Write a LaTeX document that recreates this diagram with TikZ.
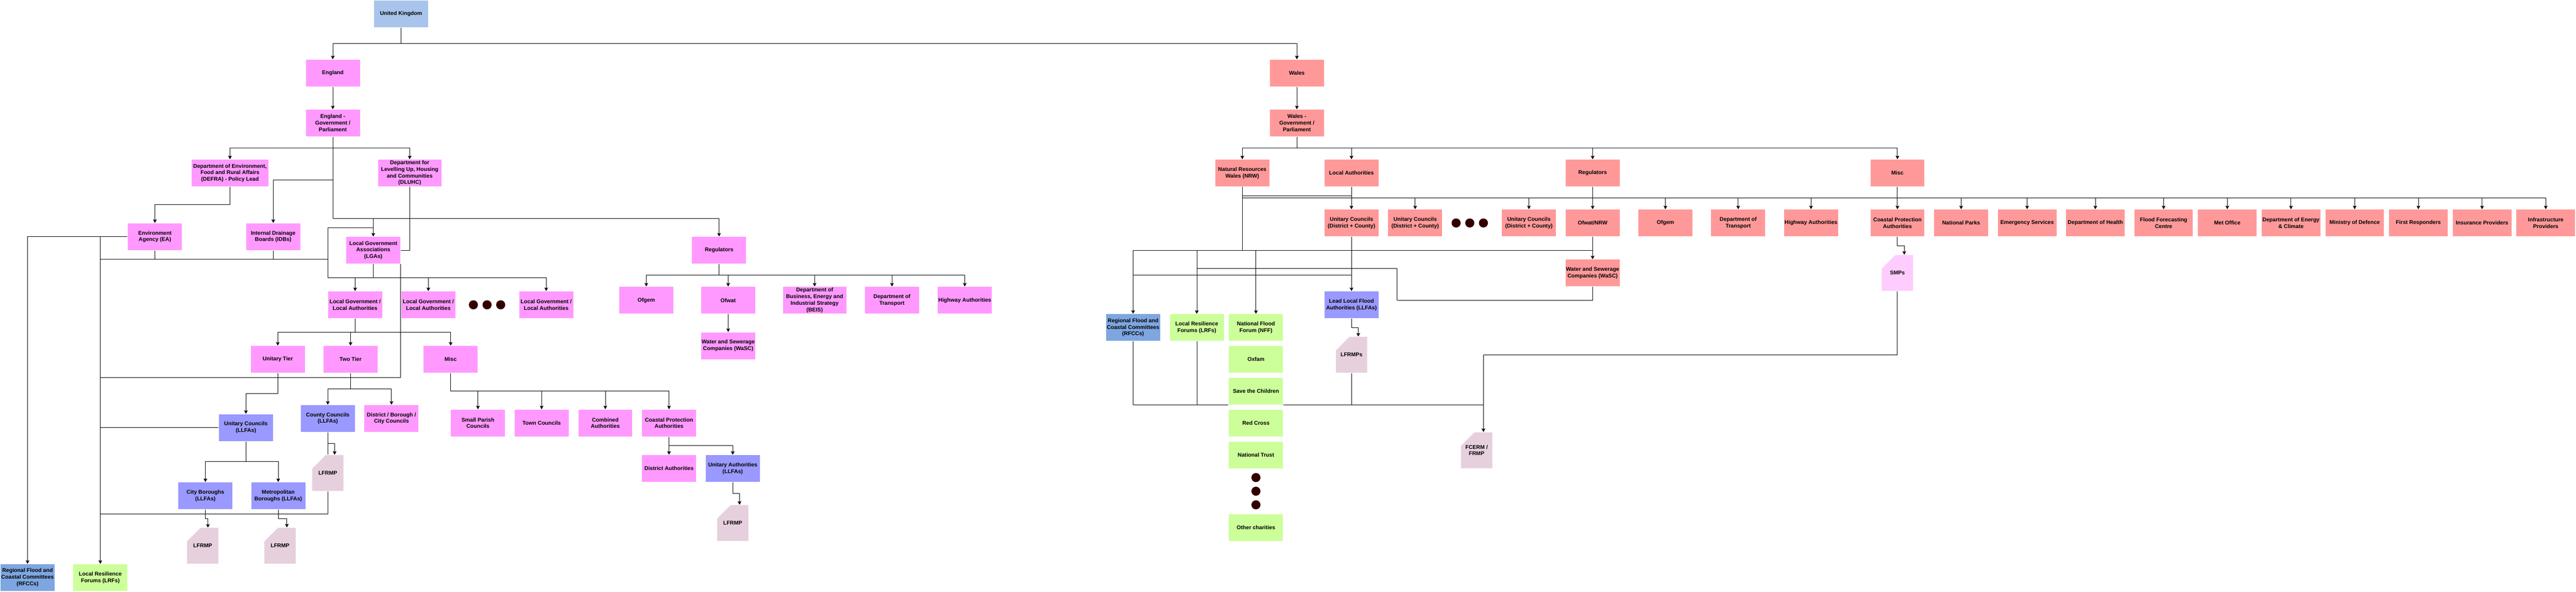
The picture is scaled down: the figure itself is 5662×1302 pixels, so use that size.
\documentclass[tikz,border=0pt]{standalone}
\usepackage{fontspec}
\setmainfont{Liberation Sans}
\usetikzlibrary{arrows.meta,backgrounds}
\definecolor{ukblue}{HTML}{A9C4EB}
\definecolor{engpink}{HTML}{FF99FF}
\definecolor{walesred}{HTML}{FF9999}
\definecolor{llfablue}{HTML}{9999FF}
\definecolor{rfccblue}{HTML}{7EA6E0}
\definecolor{lrfgreen}{HTML}{CCFF99}
\definecolor{planmauve}{HTML}{E6D0DE}
\definecolor{smppink}{HTML}{FFCCFF}
\definecolor{dotbrown}{HTML}{330000}
\tikzset{
  box/.style={draw=white,line width=1pt,minimum width=120pt,minimum height=60pt,inner sep=0pt,outer sep=0pt,align=center,
    font=\fontsize{12}{14.4}\selectfont\bfseries},
  ukbox/.style={box,fill=ukblue},
  engbox/.style={box,fill=engpink},
  walesbox/.style={box,fill=walesred},
  llfabox/.style={box,fill=llfablue},
  rfccbox/.style={box,fill=rfccblue},
  lrfbox/.style={box,fill=lrfgreen},
  widebox/.style={minimum width=130pt},
  cardbox/.style={minimum width=70pt,minimum height=80pt,inner sep=0pt,outer sep=0pt,align=center,
    font=\fontsize{12}{14.4}\selectfont\bfseries},
  bigdot/.style={circle,fill=dotbrown,minimum size=20pt,inner sep=0pt},
  link/.style={line width=1pt},
  arr/.style={line width=1pt,-{Stealth[length=8pt,width=8pt,inset=1.5pt]}},
}
% card with a cut corner, plus the point where its arrow lands
\newcommand{\plancard}[4]{%
  \filldraw[fill=#3,draw=white,line width=1pt] (#2) ++(-35,-10) -- ++(30,-30) -- ++(40,0) -- ++(0,80) -- ++(-70,0) -- cycle;
  \node[cardbox] (#1) at (#2) {#4};
  \coordinate (#1in) at ([xshift=15pt]#1.north);
}
\begin{document}
\begin{tikzpicture}[x=1pt,y=-1pt]
  \useasboundingbox (0,0) rectangle (5662,1302);

  % top
  \node[ukbox] (uk) at (881.5,30.5) {United Kingdom};
  \node[engbox] (england) at (731.5,160.5) {England};
  \node[engbox] (enggov) at (731.5,270.5) {England -\\Government /\\Parliament};
  \node[walesbox] (wales) at (2850.5,160.5) {Wales};
  \node[walesbox] (walesgov) at (2850.5,270.5) {Wales -\\Government /\\Parliament};

  % england
  \node[engbox,minimum width=170pt] (defra) at (505.5,380.5) {Department of Environment,\\Food and Rural Affairs\\(DEFRA) - Policy Lead};
  \node[engbox,minimum width=140pt] (dluhc) at (900.5,380.5) {Department for\\Levelling Up, Housing\\and Communities\\(DLUHC)};
  \node[engbox] (ea) at (340.5,520.5) {Environment\\Agency (EA)};
  \node[engbox] (idb) at (600.5,520.5) {Internal Drainage\\Boards (IDBs)};
  \node[engbox] (lga) at (820.5,550.5) {Local Government\\Associations\\(LGAs)};
  \node[engbox] (lgaa) at (780.5,670.5) {Local Government /\\Local Authorities};
  \node[engbox] (lgab) at (941.5,670.5) {Local Government /\\Local Authorities};
  \node[bigdot] (dota) at (1040.5,670.5) {};
  \node[bigdot] (dotb) at (1070.5,670.5) {};
  \node[bigdot] (dotc) at (1100.5,670.5) {};
  \node[engbox] (lgac) at (1200.5,670.5) {Local Government /\\Local Authorities};
  \node[engbox] (unitier) at (610.5,790.5) {Unitary Tier};
  \node[engbox] (twotier) at (770.5,790.5) {Two Tier};
  \node[engbox] (miscla) at (990.5,790.5) {Misc};
  \node[llfabox] (ucll) at (540.5,940.5) {Unitary Councils\\(LLFAs)};
  \node[llfabox] (county) at (720.5,920.5) {County Councils\\(LLFAs)};
  \node[engbox] (districtb) at (860.5,920.5) {District / Borough /\\City Councils};
  \node[llfabox] (cityb) at (451.5,1090.5) {City Boroughs\\(LLFAs)};
  \node[llfabox] (metrob) at (611.5,1090.5) {Metropolitan\\Boroughs (LLFAs)};
  \plancard{lfrmpa}{445.5,1200.5}{planmauve}{LFRMP}
  \plancard{lfrmpb}{615.5,1200.5}{planmauve}{LFRMP}
  \plancard{lfrmpc}{720.5,1040.5}{planmauve}{LFRMP}
  \node[rfccbox] (rfcca) at (60.5,1270.5) {Regional Flood and\\Coastal Committees\\(RFCCs)};
  \node[lrfbox] (lrfa) at (220.5,1270.5) {Local Resilience\\Forums (LRFs)};
  \node[engbox] (parish) at (1050.5,930.5) {Small Parish\\Councils};
  \node[engbox] (town) at (1190.5,930.5) {Town Councils};
  \node[engbox] (combined) at (1330.5,930.5) {Combined\\Authorities};
  \node[engbox] (coastala) at (1470.5,930.5) {Coastal Protection\\Authorities};
  \node[engbox] (districta) at (1470.5,1030.5) {District Authorities};
  \node[llfabox] (unitarya) at (1610.5,1030.5) {Unitary Authorities\\(LLFAs)};
  \plancard{lfrmpd}{1610.5,1150.5}{planmauve}{LFRMP}

  % england regulators
  \node[engbox] (regeng) at (1580.5,550.5) {Regulators};
  \node[engbox] (ofgema) at (1420.5,660.5) {Ofgem};
  \node[engbox] (ofwata) at (1600.5,660.5) {Ofwat};
  \node[engbox,minimum width=140pt] (beis) at (1790.5,660.5) {Department of\\Business, Energy and\\Industrial Strategy\\(BEIS)};
  \node[engbox] (dota1) at (1960.5,660.5) {Department of\\Transport};
  \node[engbox] (highwaya) at (2120.5,660.5) {Highway Authorities};
  \node[engbox] (wasca) at (1600.5,760.5) {Water and Sewerage\\Companies (WaSC)};

  % wales
  \node[walesbox] (nrw) at (2730.5,380.5) {Natural Resources\\Wales (NRW)};
  \node[walesbox] (lawales) at (2970.5,380.5) {Local Authorities};
  \node[walesbox] (regwales) at (3500.5,380.5) {Regulators};
  \node[walesbox] (miscw) at (4170.5,380.5) {Misc};
  \node[walesbox] (ucwa) at (2970.5,490.5) {Unitary Councils\\(District + County)};
  \node[walesbox] (ucwb) at (3110.5,490.5) {Unitary Councils\\(District + County)};
  \node[bigdot] (dotd) at (3200.5,490.5) {};
  \node[bigdot] (dote) at (3230.5,490.5) {};
  \node[bigdot] (dotf) at (3260.5,490.5) {};
  \node[walesbox] (ucwc) at (3360.5,490.5) {Unitary Councils\\(District + County)};
  \node[walesbox] (ofwatw) at (3500.5,490.5) {Ofwat/NRW};
  \node[walesbox] (ofgemw) at (3660.5,490.5) {Ofgem};
  \node[walesbox] (dotw) at (3820.5,490.5) {Department of\\Transport};
  \node[walesbox] (highwayw) at (3980.5,490.5) {Highway Authorities};
  \node[walesbox] (coastalw) at (4170.5,490.5) {Coastal Protection\\Authorities};
  \node[walesbox] (parks) at (4310.5,490.5) {National Parks};
  \node[walesbox,widebox] (emergency) at (4455.5,490.5) {Emergency Services};
  \node[walesbox,widebox] (health) at (4605.5,490.5) {Department of Health};
  \node[walesbox,widebox] (ffc) at (4755.5,490.5) {Flood Forecasting\\Centre};
  \node[walesbox,widebox] (met) at (4895.5,490.5) {Met Office};
  \node[walesbox,widebox] (decc) at (5035.5,490.5) {Department of Energy\\\& Climate};
  \node[walesbox,widebox] (mod) at (5175.5,490.5) {Ministry of Defence};
  \node[walesbox,widebox] (firstr) at (5315.5,490.5) {First Responders};
  \node[walesbox,widebox] (insurance) at (5455.5,490.5) {Insurance Providers};
  \node[walesbox,widebox] (infra) at (5595.5,490.5) {Infrastructure\\Providers};
  \node[walesbox] (wascw) at (3500.5,600.5) {Water and Sewerage\\Companies (WaSC)};
  \node[llfabox] (llfa) at (2970.5,670.5) {Lead Local Flood\\Authorities (LLFAs)};
  \plancard{lfrmpe}{2970.5,780.5}{planmauve}{LFRMPs}
  \plancard{smp}{4170.5,600.5}{smppink}{SMPs}
  \plancard{fcerm}{3245.5,990.5}{planmauve}{FCERM /\\FRMP}

  % wales partners
  \node[rfccbox] (rfccw) at (2490.5,720.5) {Regional Flood and\\Coastal Committees\\(RFCCs)};
  \node[lrfbox] (lrfw) at (2630.5,720.5) {Local Resilience\\Forums (LRFs)};
  \node[lrfbox] (nff) at (2760.5,720.5) {National Flood\\Forum (NFF)};
  \node[lrfbox] (oxfam) at (2760.5,790.5) {Oxfam};
  \node[lrfbox] (save) at (2760.5,860.5) {Save the Children};
  \node[lrfbox] (redcross) at (2760.5,930.5) {Red Cross};
  \node[lrfbox] (trust) at (2760.5,1000.5) {National Trust};
  \node[bigdot] (dotg) at (2760.5,1050.5) {};
  \node[bigdot] (doth) at (2760.5,1080.5) {};
  \node[bigdot] (doti) at (2760.5,1110.5) {};
  \node[lrfbox] (other) at (2760.5,1160.5) {Other charities};

  % bends of the connectors
  \coordinate (ukbus) at (881.5,95.5);
  \coordinate (engbus) at (731.5,325.5);
  \coordinate (idbbend) at (731.5,395.5);
  \coordinate (regbus) at (731.5,480.5);
  \coordinate (defrabend) at (505.5,450.5);
  \coordinate (lrflinka) at (220.5,830.5);
  \coordinate (lrflinkb) at (220.5,1130.5);
  \coordinate (eabus) at (220.5,570.5);
  \coordinate (lgaleft) at (720.5,570.5);
  \coordinate (lgatop) at (820.5,500.5);
  \coordinate (lgabus) at (820.5,610.5);
  \coordinate (tierbus) at (780.5,730.5);
  \coordinate (unibend) at (610.5,865.5);
  \coordinate (ucbus) at (540.5,1015.5);
  \coordinate (citybend) at (451.5,1140.5);
  \coordinate (lfrmpain) at (457,1161);
  \coordinate (metrobend) at (611.5,1140.5);
  \coordinate (twobus) at (770.5,855.5);
  \coordinate (countybend) at (720.5,975.5);
  \coordinate (miscbus) at (990.5,860.5);
  \coordinate (coastbus) at (1470.5,980.5);
  \coordinate (unitbend) at (1610.5,1085.5);
  \coordinate (regbusb) at (1580.5,605.5);
  \coordinate (walesbusa) at (2850.5,325.5);
  \coordinate (rowbus) at (2730.5,435.5);
  \coordinate (labend) at (2730.5,430.5);
  \coordinate (walesbus) at (2730.5,550.5);
  \coordinate (llfabus) at (2490.5,605.5);
  \coordinate (wascbend) at (3070.5,660.5);
  \coordinate (wascend) at (2630.5,590.5);
  \coordinate (llfabend) at (2970.5,720.5);
  \coordinate (planbus) at (3260.5,890.5);
  \coordinate (coastbend) at (4170.5,540.5);
  \coordinate (smpbend) at (3260.5,780.5);

  \begin{scope}[on background layer]
    \draw[arr] (uk.south) |- (ukbus) -| (england.north);
    \draw[arr] (uk.south) |- (ukbus) -| (wales.north);
    \draw[arr] (england) -- (enggov);
    \draw[arr] (wales) -- (walesgov);

    \draw[arr] (enggov.south) |- (engbus) -| (defra.north);
    \draw[arr] (enggov.south) |- (engbus) -| (dluhc.north);
    \draw[arr] (enggov.south) |- (idbbend) -| (idb.north);
    \draw[arr] (enggov.south) |- (regbus) -| (regeng.north);
    \draw[arr] (enggov.south) |- (regbus) -| (lga.north);
    \draw[arr] (defra.south) |- (defrabend) -| (ea.north);
    \draw[link] (dluhc.south) |- (lga.east);
    \draw[link] (lga.east) |- (lrflinka);
    \draw[arr] (ea.west) -| (rfcca.north);
    \draw[arr] (ea.west) -| (lrfa.north);
    \draw[link] (ea.south) |- (eabus);
    \draw[link] (idb.south) |- (lgaleft);
    \draw[link] (idb.south) |- (eabus);
    \draw[link] (lgaleft) |- (lgatop);
    \draw[arr] (lgaleft) |- (lgabus) -| (lgab.north);
    \draw[arr] (lgaleft) |- (lgabus) -| (lgaa.north);
    \draw[arr] (lga.south) |- (lgabus) -| (lgac.north);
    \draw[arr] (lgaa.south) |- (tierbus) -| (unitier.north);
    \draw[arr] (lgaa.south) |- (tierbus) -| (twotier.north);
    \draw[arr] (lgaa.south) |- (tierbus) -| (miscla.north);
    \draw[arr] (unitier.south) |- (unibend) -| (ucll.north);
    \draw[link] (ucll.west) -- (ucll.west -| lrfa.north);
    \draw[arr] (ucll.south) |- (ucbus) -| (cityb.north);
    \draw[arr] (ucll.south) |- (ucbus) -| (metrob.north);
    \draw[arr] (cityb.south) |- (citybend) -| (lfrmpain);
    \draw[arr] (metrob.south) |- (metrobend) -| (lfrmpbin);
    \draw[arr] (twotier.south) |- (twobus) -| (county.north);
    \draw[arr] (twotier.south) |- (twobus) -| (districtb.north);
    \draw[arr] (county.south) |- (countybend) -| (lfrmpcin);
    \draw[link] (county.south) -- (lfrmpc.north);
    \draw[link] (lfrmpc.south) |- (lrflinkb);
    \draw[arr] (miscla.south) |- (miscbus) -| (parish.north);
    \draw[arr] (miscla.south) |- (miscbus) -| (town.north);
    \draw[arr] (miscla.south) |- (miscbus) -| (combined.north);
    \draw[arr] (miscla.south) |- (miscbus) -| (coastala.north);
    \draw[arr] (coastala.south) |- (coastbus) -| (districta.north);
    \draw[arr] (coastala.south) |- (coastbus) -| (unitarya.north);
    \draw[arr] (unitarya.south) |- (unitbend) -| (lfrmpdin);

    \draw[arr] (regeng.south) |- (regbusb) -| (ofgema.north);
    \draw[arr] (regeng.south) |- (regbusb) -| (ofwata.north);
    \draw[arr] (regeng.south) |- (regbusb) -| (beis.north);
    \draw[arr] (regeng.south) |- (regbusb) -| (dota1.north);
    \draw[arr] (regeng.south) |- (regbusb) -| (highwaya.north);
    \draw[arr] (ofwata) -- (wasca);

    \draw[arr] (walesgov.south) |- (walesbusa) -| (nrw.north);
    \draw[arr] (walesgov.south) |- (walesbusa) -| (lawales.north);
    \draw[arr] (walesgov.south) |- (walesbusa) -| (regwales.north);
    \draw[arr] (walesgov.south) |- (walesbusa) -| (miscw.north);
    \draw[arr] (lawales) -- (ucwa);
    \draw[link] (lawales.south) |- (labend);
    \draw[arr] (regwales) -- (ofwatw);
    \draw[arr] (miscw) -- (coastalw);
    \draw[link] (nrw.south) |- (rowbus);
    \draw[arr] (rowbus) -| (ucwb.north);
    \draw[arr] (rowbus) -| (ucwc.north);
    \draw[arr] (rowbus) -| (ofgemw.north);
    \draw[arr] (rowbus) -| (dotw.north);
    \draw[arr] (rowbus) -| (highwayw.north);
    \draw[arr] (rowbus) -| (parks.north);
    \draw[arr] (rowbus) -| (emergency.north);
    \draw[arr] (rowbus) -| (health.north);
    \draw[arr] (rowbus) -| (ffc.north);
    \draw[arr] (rowbus) -| (met.north);
    \draw[arr] (rowbus) -| (decc.north);
    \draw[arr] (rowbus) -| (mod.north);
    \draw[arr] (rowbus) -| (firstr.north);
    \draw[arr] (rowbus) -| (insurance.north);
    \draw[arr] (rowbus) -| (infra.north);
    \draw[link] (nrw.south) |- (walesbus);
    \draw[arr] (walesbus) -| (rfccw.north);
    \draw[arr] (walesbus) -| (lrfw.north);
    \draw[arr] (walesbus) -| (nff.north);
    \draw[link] (walesbus) -| (ofwatw.south);
    \draw[arr] (ofwatw) -- (wascw);
    \draw[arr] (ucwa) -- (llfa);
    \draw[link] (ucwa.south) |- (llfabus);
    \draw[link] (wascw.south) |- (wascbend);
    \draw[link] (wascbend) |- (wascend);
    \draw[arr] (llfa.south) |- (llfabend) -| (lfrmpein);
    \draw[link] (lfrmpe.south) -- (lfrmpe.south |- planbus);
    \draw[link] (lrfw.south) -- (lrfw.south |- planbus);
    \draw[link] (rfccw.south) |- (planbus);
    \draw[arr] (coastalw.south) |- (coastbend) -| (smpin);
    \draw[link] (smp.south) |- (smpbend);
    \draw[arr] (smpbend) -- (fcermin);
  \end{scope}
\end{tikzpicture}
\end{document}
